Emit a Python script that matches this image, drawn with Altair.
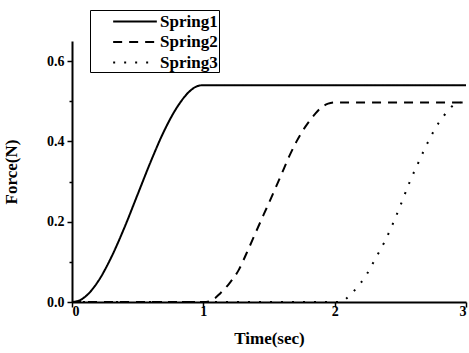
import altair as alt
import pandas as pd

series = ["Spring1", "Spring2", "Spring3"]

t1 = [0, 0.05, 0.1, 0.2, 0.3, 0.4, 0.5, 0.6, 0.7, 0.8, 0.9, 0.95, 1.0, 3.0]
f1 = [0, 0.003, 0.013, 0.052, 0.112, 0.186, 0.268, 0.350, 0.425, 0.485, 0.526, 0.537, 0.540, 0.540]

t2 = [0, 1.0, 1.05, 1.13, 1.2, 1.27, 1.33, 1.4, 1.46, 1.52, 1.59, 1.65, 1.71, 1.78, 1.85, 1.9, 1.95, 2.0, 3.0]
f2 = [0, 0, 0.002, 0.022, 0.047, 0.080, 0.122, 0.174, 0.218, 0.262, 0.314, 0.360, 0.400, 0.438, 0.468, 0.485, 0.494, 0.497, 0.497]

t3 = [0, 2.04, 2.13, 2.2, 2.25, 2.3, 2.38, 2.45, 2.51, 2.57, 2.64, 2.71, 2.8, 2.86, 2.91, 2.95, 3.0]
f3 = [0, 0, 0.022, 0.048, 0.072, 0.102, 0.150, 0.200, 0.248, 0.298, 0.349, 0.398, 0.450, 0.475, 0.492, 0.497, 0.497]

x_ticks = [0, 0.5, 1, 1.5, 2, 2.5, 3]
y_ticks = [0, 0.1, 0.2, 0.3, 0.4, 0.5, 0.6]

rows = []
for name, ts, fs in zip(series, [t1, t2, t3], [f1, f2, f3]):
    for t, f in zip(ts, fs):
        rows.append({"Series": name, "Time": t, "Force": f})
df = pd.DataFrame(rows)

FONT = "Liberation Serif"

chart = alt.Chart(df).mark_line(
    interpolate="monotone", strokeWidth=2, color="black"
).encode(
    x=alt.X("Time:Q", scale=alt.Scale(domain=[0, 3], nice=False, zero=False),
            axis=alt.Axis(values=x_ticks, title="Time(sec)", format="d",
                          labelExpr="datum.value % 1 ? '' : datum.label",
                          tickSize={"condition": {"test": "datum.value % 1 != 0", "value": 3}, "value": 5},
                          labelPadding=-3, titlePadding=12)),
    y=alt.Y("Force:Q", scale=alt.Scale(domain=[0, 0.65], nice=False),
            axis=alt.Axis(values=y_ticks, title="Force(N)", format=".1f",
                          labelExpr="round(datum.value*10) % 2 ? '' : datum.label",
                          tickSize={"condition": {"test": "round(datum.value*10) % 2 != 0", "value": 3}, "value": 5},
                          labelPadding=3, titlePadding=26)),
    strokeDash=alt.StrokeDash("Series:N",
                              scale=alt.Scale(domain=series, range=[[1, 0], [9, 7], [2, 9]]),
                              legend=alt.Legend(title=None, orient="none", legendX=18, legendY=-31,
                                                strokeColor="black", fillColor="white", padding=1,
                                                symbolType="M-2.3,0H2.3", symbolSize=361, symbolStrokeWidth=2,
                                                symbolStrokeColor="black", symbolOffset=33.5,
                                                labelFont=FONT, labelFontWeight="bold", labelFontSize=17,
                                                labelColor="black", labelOffset=14.5, rowPadding=1.5)),
).properties(
    width=394, height=261,
    autosize=alt.AutoSizeParams(type="none"),
    padding={"left": 72, "top": 41, "right": 3, "bottom": 51},
).configure_view(stroke=None).configure_axis(
    grid=False, domainColor="black", domainWidth=2, tickColor="black", tickWidth=1.5,
    labelFont=FONT, labelFontWeight="bold", labelFontSize=14, labelColor="black",
    titleFont=FONT, titleFontWeight="bold", titleFontSize=17, titleColor="black",
)

chart.save("out.html", embed_options={"renderer": "svg", "actions": False})
